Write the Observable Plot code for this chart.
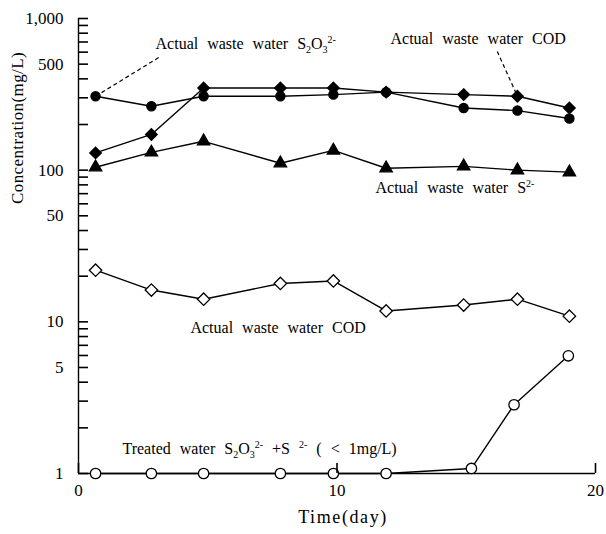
<!DOCTYPE html>
<html><head><meta charset="utf-8">
<script src="https://cdn.jsdelivr.net/npm/d3@7"></script>
<script src="https://cdn.jsdelivr.net/npm/@observablehq/plot@0.6"></script>
<style>
body{margin:0;background:#fff;}
g[aria-label="text"] text{word-spacing:5px;}
</style></head><body><div id="chart"></div>
<script>
// ---- data ----
const days = [0.66, 2.82, 4.84, 7.81, 9.86, 11.9, 14.9, 16.98, 18.99];
const treatedDays = [0.66, 2.82, 4.84, 7.81, 9.86, 11.9, 15.2, 16.85, 18.95];
const rawThiosulfate = [307, 264, 307, 307, 315, 327, 257, 247, 219];   // filled circles
const rawCOD = [130, 172, 348, 348, 348, 327, 315, 307, 257];           // filled diamonds
const rawSulfide = [104.6, 131, 155, 111, 135, 103, 106, 100, 97];      // filled triangles
const codLower = [21.9, 16.2, 14.1, 17.9, 18.6, 11.8, 12.9, 14.1, 10.9]; // open diamonds
const treatedSulfur = [1, 1, 1, 1, 1, 1, 1.08, 2.84, 5.97];             // open circles

const yLabelTicks = [1, 5, 10, 50, 100, 500, 1000];
const yMinorTicks = [1,2,3,4,5,6,7,8,9,10,20,30,40,50,60,70,80,90,100,200,300,400,500,600,700,800,900,1000];
const xTicks = [0, 10, 20];

const labelText = [
  "Actual waste water S₂O₃²⁻",
  "Actual waste water COD",
  "Actual waste water S²⁻",
  "Actual waste water COD",
  "Treated water S₂O₃²⁻ +S ²⁻ ( < 1mg/L)"
];
const labelX = [2.98, 12.07, 11.49, 4.33, 1.70];
const labelY = [685, 738, 76.2, 9.13, 1.46];

const leaderX1 = [0.66, 16.2];
const leaderY1 = [307, 607];
const leaderX2 = [3.17, 16.98];
const leaderY2 = [562, 307];

// ---- layout ----
const W = 606, H = 534, mL = 78, mR = 11, mT = 18, mB = 61;
const tickLen = 10;
const xDomain = [0, 20];

// ---- build tables ----
const mk = (xs, ys) => xs.map((x, i) => ({x, y: ys[i]}));
const series = [
  {data: mk(days, rawThiosulfate), symbol: "circle", fill: "black", r: 4.6},
  {data: mk(days, rawCOD), symbol: "diamond2", fill: "black", r: 5.2},
  {data: mk(days, rawSulfide), symbol: "triangle", fill: "black", r: 4.6},
  {data: mk(days, codLower), symbol: "diamond2", fill: "white", r: 5.6},
  {data: mk(treatedDays, treatedSulfur), symbol: "circle", fill: "white", r: 5.2}
];
const labels = labelText.map((t, i) => ({t, x: labelX[i], y: labelY[i]}));
const leaders = leaderX1.map((x1, i) => ({x1, y1: leaderY1[i], x2: leaderX2[i], y2: leaderY2[i]}));
const fmt = d3.format(",");

const marks = [
  Plot.ruleX([0], {stroke: "black", strokeWidth: 1.4}),
  Plot.ruleY([1], {stroke: "black", strokeWidth: 1.4}),
  Plot.axisY({ticks: yLabelTicks, tickSize: 0, tickPadding: 15, text: d => fmt(d), fontSize: 17, label: null}),
  Plot.axisX({ticks: xTicks, tickSize: 0, tickPadding: 10, text: d => String(d), fontSize: 17, label: null}),
  Plot.link(leaders, {x1: "x1", y1: "y1", x2: "x2", y2: "y2", stroke: "black", strokeWidth: 1.2, strokeDasharray: "4,3"})
];
for (const s of series) {
  marks.push(Plot.line(s.data, {x: "x", y: "y", stroke: "black", strokeWidth: 1.4}));
}
for (const s of series) {
  marks.push(Plot.dot(s.data, {x: "x", y: "y", symbol: s.symbol, r: s.r, fill: s.fill, stroke: "black", strokeWidth: 1.3}));
}
marks.push(Plot.text(labels, {x: "x", y: "y", text: "t", textAnchor: "start", fontSize: 16, fill: "black"}));
marks.push(Plot.text(["Concentration(mg/L)"], {frameAnchor: "left", rotate: -90, dx: -61, dy: -42, fontSize: 17, fill: "black"}));
marks.push(Plot.text(["Time(day)"], {frameAnchor: "bottom", dy: 49, dx: 6, fontSize: 18, fill: "black"}));
// inward ticks, drawn last (y axis: pointing right; x axis: pointing up)
marks.push(Plot.tickY(yMinorTicks, {y: d => d, insetRight: W - mL - mR - tickLen, stroke: "black", strokeWidth: 1.6}));
marks.push(Plot.tickX(xTicks, {x: d => d, insetTop: H - mT - mB - tickLen, stroke: "black", strokeWidth: 1.6}));

const chart = Plot.plot({
  width: W, height: H,
  marginLeft: mL, marginRight: mR, marginTop: mT, marginBottom: mB,
  style: {fontFamily: "'Liberation Serif', 'Times New Roman', serif", fontSize: "16px", background: "white", color: "black"},
  x: {domain: xDomain},
  y: {type: "log", domain: [1, 1000]},
  marks
});
document.getElementById("chart").appendChild(chart);

chart.querySelectorAll("text").forEach(el => {
  if (el.textContent === "Time(day)") el.style.letterSpacing = "1.6px";
  if (el.textContent === "Concentration(mg/L)") el.style.letterSpacing = "0.4px";
});

// ---- render sub/superscripts as tspans ----
const subMap = {"₂": "2", "₃": "3"};
const supMap = {"²": "2", "⁻": "-"};
const svgns = "http://www.w3.org/2000/svg";
chart.querySelectorAll("text").forEach(el => {
  const s = el.textContent;
  if (!/[₂₃²⁻]/.test(s)) return;
  const runs = [];
  for (const ch of s) {
    const type = ch in subMap ? "sub" : ch in supMap ? "sup" : "n";
    const c = subMap[ch] ?? supMap[ch] ?? ch;
    if (runs.length && runs[runs.length - 1].type === type) runs[runs.length - 1].t += c;
    else runs.push({type, t: c});
  }
  el.textContent = "";
  let cur = 0;
  for (const r of runs) {
    const target = r.type === "sub" ? 4 : r.type === "sup" ? -6 : 0;
    const ts = document.createElementNS(svgns, "tspan");
    ts.setAttribute("dy", target - cur);
    cur = target;
    if (r.type !== "n") { ts.setAttribute("font-size", "10"); ts.style.wordSpacing = "0"; }
    ts.textContent = r.t;
    el.appendChild(ts);
  }
});
</script></body></html>
